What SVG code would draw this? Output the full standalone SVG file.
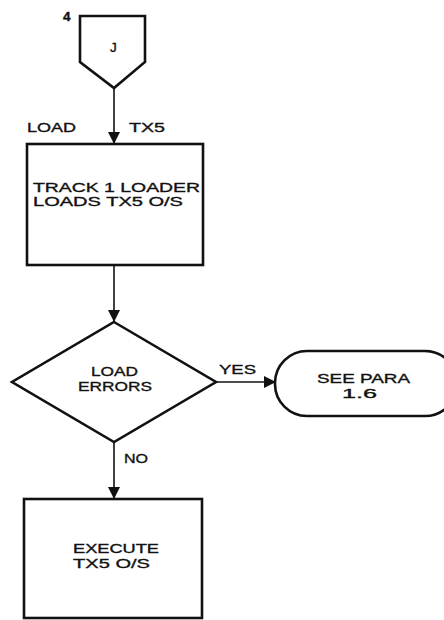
<svg xmlns="http://www.w3.org/2000/svg" width="444" height="620" viewBox="0 0 444 620">
  <style>
    .shape { fill: #fff; stroke: #111; stroke-width: 2.6; stroke-linejoin: miter; }
    .wire { fill: none; stroke: #111; stroke-width: 1.6; }
    text { font-family: "Liberation Sans", "DejaVu Sans", sans-serif; font-size: 13.5px; fill: #111; stroke: #111; stroke-width: 0.35; }
  </style>
  <defs>
    <marker id="arrow" viewBox="0 0 12 12" refX="12" refY="6" markerWidth="12" markerHeight="12" markerUnits="userSpaceOnUse" orient="auto">
      <path d="M0,0 L12,6 L0,12 Z" fill="#111"/>
    </marker>
  </defs>
  <rect width="444" height="620" fill="#fff"/>

  <g id="connectors">
    <line class="wire" x1="114" y1="88" x2="114" y2="144" marker-end="url(#arrow)"/>
    <line class="wire" x1="114" y1="265" x2="114" y2="322" marker-end="url(#arrow)"/>
    <line class="wire" x1="216" y1="382" x2="276" y2="382" marker-end="url(#arrow)"/>
    <line class="wire" x1="114" y1="442" x2="114" y2="499" marker-end="url(#arrow)"/>
    <text x="27" y="132" textLength="49" lengthAdjust="spacingAndGlyphs">LOAD</text>
    <text x="129" y="132" textLength="36" lengthAdjust="spacingAndGlyphs">TX5</text>
    <text x="219" y="374" textLength="37" lengthAdjust="spacingAndGlyphs">YES</text>
    <text x="124" y="463" textLength="24" lengthAdjust="spacingAndGlyphs">NO</text>
  </g>

  <g id="entry-J">
    <path class="shape" d="M80,16 L145,16 L145,62 L114,88 L80,62 Z"/>
    <text x="63" y="21" font-size="11" font-weight="bold">4</text>
    <text x="110" y="52" font-size="10">J</text>
  </g>

  <g id="track-loader">
    <rect class="shape" x="27" y="144" width="176" height="121"/>
    <text x="33" y="192" textLength="167" lengthAdjust="spacingAndGlyphs">TRACK 1 LOADER</text>
    <text x="33" y="206" textLength="150" lengthAdjust="spacingAndGlyphs">LOADS TX5 O/S</text>
  </g>

  <g id="load-errors">
    <path class="shape" d="M114,322 L216,382 L114,442 L12,382 Z"/>
    <text x="91" y="376" textLength="47" lengthAdjust="spacingAndGlyphs">LOAD</text>
    <text x="78" y="391" textLength="74" lengthAdjust="spacingAndGlyphs">ERRORS</text>
  </g>

  <g id="see-para">
    <rect class="shape" x="275" y="351" width="182" height="65" rx="32" ry="32"/>
    <text x="317" y="383" textLength="93" lengthAdjust="spacingAndGlyphs">SEE PARA</text>
    <text x="342" y="398" textLength="35" lengthAdjust="spacingAndGlyphs">1.6</text>
  </g>

  <g id="execute">
    <rect class="shape" x="24" y="499" width="178" height="119"/>
    <text x="73" y="553" textLength="86" lengthAdjust="spacingAndGlyphs">EXECUTE</text>
    <text x="73" y="568" textLength="77" lengthAdjust="spacingAndGlyphs">TX5 O/S</text>
  </g>
</svg>
